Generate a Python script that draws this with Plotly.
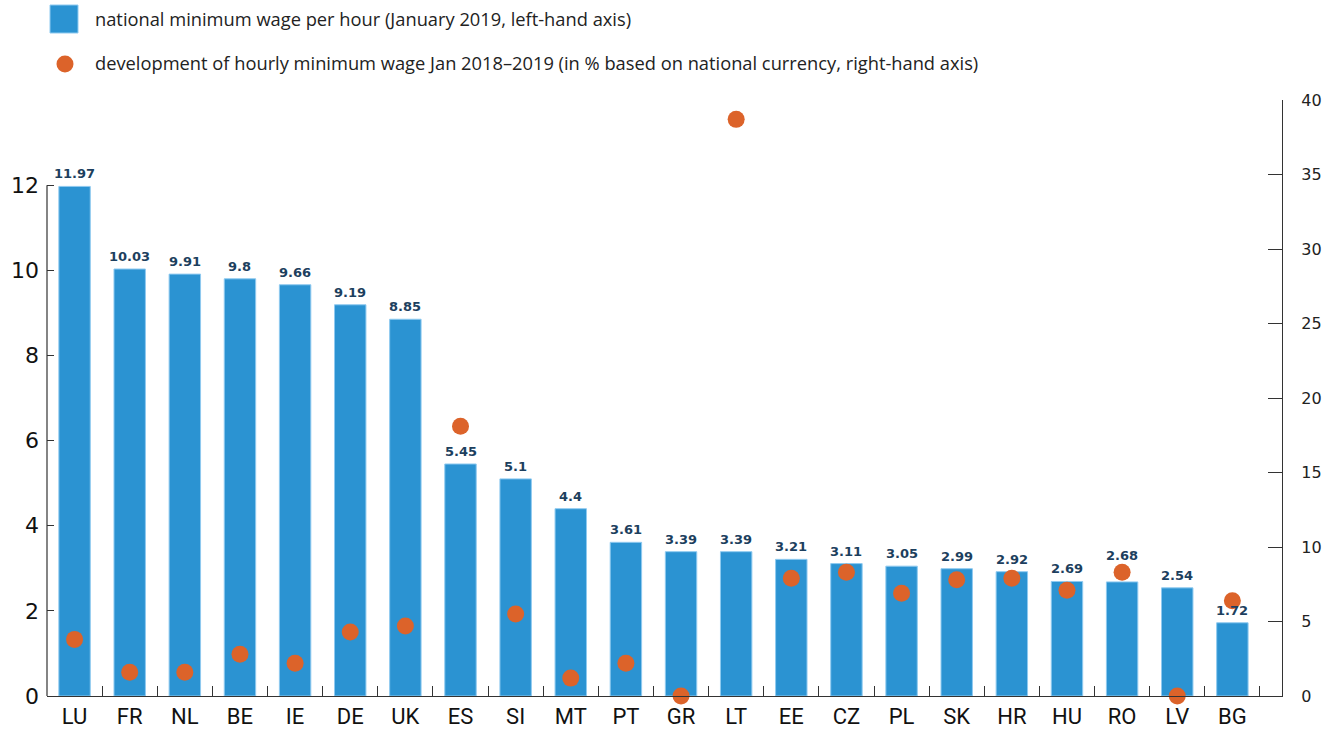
import plotly.graph_objects as go

# Country codes, hourly minimum wage (EUR, Jan 2019) and change Jan 2018-2019 (%)
countries = ["LU", "FR", "NL", "BE", "IE", "DE", "UK", "ES", "SI", "MT", "PT",
             "GR", "LT", "EE", "CZ", "PL", "SK", "HR", "HU", "RO", "LV", "BG"]
wage_2019 = [11.97, 10.03, 9.91, 9.8, 9.66, 9.19, 8.85, 5.45, 5.1, 4.4, 3.61,
             3.39, 3.39, 3.21, 3.11, 3.05, 2.99, 2.92, 2.69, 2.68, 2.54, 1.72]
change_pct = [3.8, 1.6, 1.6, 2.8, 2.2, 4.3, 4.7, 18.1, 5.5, 1.2, 2.2,
              0.0, 38.7, 7.9, 8.3, 6.9, 7.8, 7.9, 7.1, 8.3, 0.0, 6.4]
left_ticks = [0, 2, 4, 6, 8, 10, 12]
right_ticks = [0, 5, 10, 15, 20, 25, 30, 35, 40]

BLUE = "#2b93d2"
ORANGE = "#dc632a"
NAVY = "#1d3f5e"
AXIS = "#333333"
LEGEND_1 = "national minimum wage per hour (January 2019, left-hand axis)"
LEGEND_2 = ("development of hourly minimum wage Jan 2018\u20132019 "
            "(in % based on national currency, right-hand axis)")

fig = go.Figure()

fig.add_trace(go.Bar(
    x=countries, y=wage_2019, width=0.57,
    marker=dict(color=BLUE, line=dict(color="#8fcaf0", width=1)),
    showlegend=False, yaxis="y",
))

fig.add_trace(go.Scatter(
    x=countries, y=change_pct, mode="markers",
    marker=dict(color=ORANGE, size=17, line=dict(width=0)),
    cliponaxis=False, showlegend=False, yaxis="y2",
))

# Value labels above the bars; the RO label is lifted clear of its dot
for c, v in zip(countries, wage_2019):
    fig.add_annotation(
        x=c, y=v, xref="x", yref="y", text=f"{v:g}", showarrow=False,
        xanchor="center", yanchor="bottom", yshift=17 if c == "RO" else 3,
        font=dict(family="DejaVu Sans", size=13, color=NAVY, weight="bold"),
    )

# Left axis line only spans the labelled range 0-12
fig.add_shape(type="line", xref="paper", yref="y", x0=0, x1=0, y0=0, y1=12,
              line=dict(color=AXIS, width=1.2))

# Hand-built legend
fig.add_shape(type="rect", xref="paper", yref="paper",
              x0=(50 - 47) / 1235, x1=(78 - 47) / 1235,
              y0=(696 - 33) / 596, y1=(696 - 5) / 596,
              fillcolor=BLUE, line=dict(color="#8fcaf0", width=1))
fig.add_shape(type="circle", xref="paper", yref="paper",
              x0=(56.5 - 47) / 1235, x1=(73.5 - 47) / 1235,
              y0=(696 - 72.5) / 596, y1=(696 - 55.5) / 596,
              fillcolor=ORANGE, line=dict(width=0))
for txt, py in [(LEGEND_1, 19), (LEGEND_2, 63)]:
    fig.add_annotation(text=txt, xref="paper", yref="paper",
                       x=(93 - 47) / 1235, y=(696 - py) / 596,
                       xanchor="left", yanchor="middle", showarrow=False,
                       font=dict(family="Open Sans", size=18.3, color="#222222"))

fig.update_layout(
    width=1341, height=729,
    margin=dict(l=47, r=59, t=100, b=33),
    paper_bgcolor="white", plot_bgcolor="white",
    bargap=0.43,
    xaxis=dict(
        type="category", range=[-0.5, 21.9], automargin=False,
        showline=True, linecolor=AXIS, linewidth=1.2,
        ticks="inside", tickson="boundaries", ticklen=10,
        tickcolor=AXIS, tickwidth=1,
        showgrid=False, zeroline=False,
        tickfont=dict(family="Liberation Sans Narrow, Roboto", size=22, color="#111111"),
    ),
    yaxis=dict(
        range=[0, 14], tickvals=left_ticks, automargin=False,
        showline=False, ticks="inside", ticklen=7, tickcolor=AXIS, tickwidth=1,
        showgrid=False, zeroline=False,
        ticklabelstandoff=7,
        tickfont=dict(family="DejaVu Sans", size=22, color="#111111"),
    ),
    yaxis2=dict(
        range=[0, 40], tickvals=right_ticks, overlaying="y", side="right",
        automargin=False,
        showline=True, linecolor=AXIS, linewidth=1.2,
        ticks="inside", ticklen=14, tickcolor=AXIS, tickwidth=1,
        showgrid=False, zeroline=False,
        ticklabelstandoff=15,
        tickfont=dict(family="DejaVu Sans", size=16, color="#222222"),
    ),
)

fig.write_html("out.html")
